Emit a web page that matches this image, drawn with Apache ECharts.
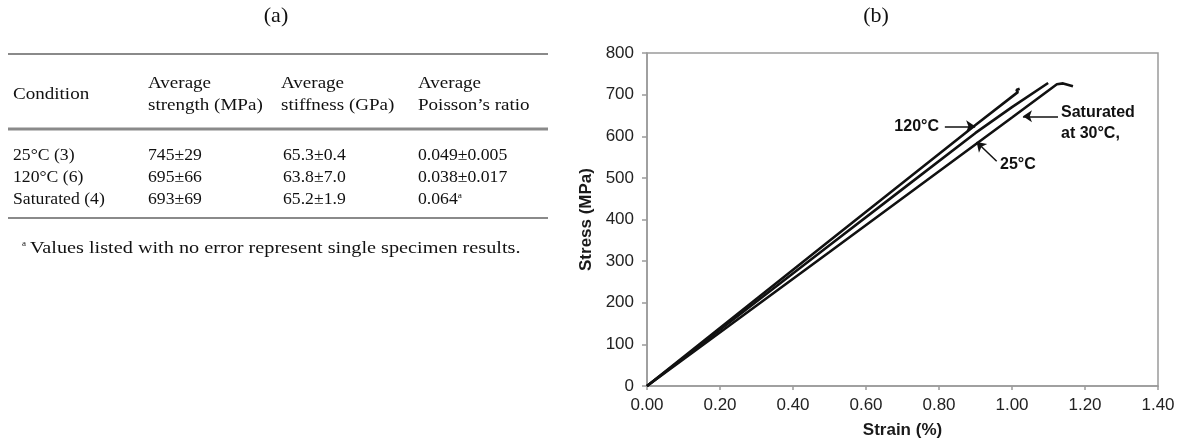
<!DOCTYPE html>
<html><head><meta charset="utf-8">
<script src="https://cdn.jsdelivr.net/npm/echarts@6/dist/echarts.min.js"></script>
<style>html,body{margin:0;padding:0;background:#fff}#c{width:1180px;height:444px}</style>
</head><body><div id="c"></div><script>
// ---- Table (a) data ----
const tableHeaders = ['Condition', 'Average\nstrength (MPa)', 'Average\nstiffness (GPa)', 'Average\nPoisson\u2019s ratio'];
const conditions = ['25°C (3)', '120°C (6)', 'Saturated (4)'];
const strength = ['745\u00b129', '695\u00b166', '693\u00b169'];
const stiffness = ['65.3\u00b10.4', '63.8\u00b17.0', '65.2\u00b11.9'];
const poisson = ['0.049\u00b10.005', '0.038\u00b10.017', '0.064{sup|a}'];
const footnote = 'Values listed with no error represent single specimen results.';

// ---- Chart (b) data: [strain %, stress MPa] ----
const curve120 = [[0, 0], [0.50, 349], [0.90, 627], [1.016, 706], [1.012, 711], [1.021, 714]];
const curve25 = [[0, 0], [0.50, 338], [0.70, 473], [0.90, 608], [1.00, 670], [1.099, 728]];
const curveSat = [[0, 0], [0.50, 322], [1.00, 645], [1.123, 725], [1.140, 727], [1.167, 720]];
const seriesNames = ['120°C', '25°C', 'Saturated at 30°C'];
const annotations = [
  { text: '120°C', from: [0.816, 624], to: [0.899, 624] },
  { text: 'Saturated\nat 30°C,', from: [1.126, 648], to: [1.030, 648] },
  { text: '25°C', from: [0.958, 540], to: [0.903, 586] }
];

const serif = '"Liberation Serif", "Times New Roman", serif';
const sans = '"Liberation Sans", Arial, sans-serif';
const graphics = [];
function txt(x, y, text, font, align, valign, extra, sx) {
  graphics.push({ type: 'text', x: x, y: y, scaleX: sx || 1, silent: true,
    style: Object.assign({ text: text, font: font, fill: '#111', textAlign: align || 'left', textVerticalAlign: valign || 'middle' }, extra || {}) });
}
function hline(x1, x2, y, w, c) {
  graphics.push({ type: 'line', silent: true, shape: { x1: x1, y1: y, x2: x2, y2: y }, style: { stroke: c || '#8a8a8a', lineWidth: w } });
}
const HS = 1.12;  // header text horizontal stretch
const RS = 1.04;  // body rows stretch
const FS = 1.19;  // footnote stretch
const tf = '17px ' + serif;
// panel titles
txt(276, 16, '(a)', '22px ' + serif, 'center');
txt(876, 16, '(b)', '22px ' + serif, 'center');
// table
const colX = [13, 148, 281, 418];
hline(8, 548, 54, 2);
txt(colX[0], 95, tableHeaders[0], tf, 'left', 'middle', null, HS);
for (let i = 1; i < 4; i++) {
  const parts = tableHeaders[i].split('\n');
  txt(colX[i], 84, parts[0], tf, 'left', 'middle', null, HS);
  txt(colX[i], 106, parts[1], tf, 'left', 'middle', null, HS);
}
hline(8, 548, 129, 3);
const rowY = [156, 178, 200];
for (let r = 0; r < 3; r++) {
  txt(colX[0], rowY[r], conditions[r], tf, 'left', 'middle', null, RS);
  txt(colX[1], rowY[r], strength[r], tf, 'left', 'middle', null, RS);
  txt(colX[2] + 2, rowY[r], stiffness[r], tf, 'left', 'middle', null, RS);
  txt(colX[3], rowY[r], poisson[r], tf, 'left', 'middle',
    { rich: { sup: { font: '9px ' + serif, fill: '#111', verticalAlign: 'top', padding: [0, 0, 8, 0] } } }, RS);
}
hline(8, 548, 218, 2);
txt(22, 244, 'a', '9px ' + serif);
txt(30, 249, footnote, tf, 'left', 'middle', null, FS);

// chart annotation labels
txt(939, 127, '120°C', 'bold 16px ' + sans, 'right');
txt(1061, 113, 'Saturated', 'bold 16px ' + sans);
txt(1061, 134, 'at 30°C,', 'bold 16px ' + sans);
txt(1000, 165, '25°C', 'bold 16px ' + sans);

const axisGrey = '#9a9a9a';
const lineSeries = [curve120, curve25, curveSat].map((d, i) => ({
  name: seriesNames[i], type: 'line', data: d, showSymbol: false, symbol: 'none',
  lineStyle: { color: '#111', width: 2.6 }, animation: false, z: 3
}));
lineSeries.push({
  type: 'line', data: [], animation: false,
  markLine: {
    silent: true, animation: false, symbol: ['none', 'arrow'], symbolSize: 9,
    label: { show: false }, lineStyle: { color: '#111', width: 1.5, type: 'solid' },
    data: annotations.map(a => [{ coord: a.from }, { coord: a.to }])
  }
});

const chart = echarts.init(document.getElementById('c'), null, { renderer: 'canvas' });
chart.setOption({
  animation: false,
  backgroundColor: '#fff',
  grid: { left: 647, top: 53, width: 511, height: 336, show: true, borderColor: axisGrey, borderWidth: 1.5, backgroundColor: 'transparent' },
  xAxis: {
    type: 'value', min: 0, max: 1.4, interval: 0.2,
    name: 'Strain (%)', nameLocation: 'middle', nameGap: 36,
    nameTextStyle: { fontFamily: sans, fontWeight: 'bold', fontSize: 17, color: '#1a1a1a' },
    axisLine: { show: true, onZero: false, lineStyle: { color: axisGrey, width: 1.5 } },
    axisTick: { show: true, length: 4, lineStyle: { color: axisGrey, width: 1.5 } },
    splitLine: { show: false },
    axisLabel: { color: '#222', fontSize: 17, fontFamily: sans, margin: 11, formatter: v => v.toFixed(2) }
  },
  yAxis: {
    type: 'value', min: 0, max: 800, interval: 100,
    name: 'Stress (MPa)', nameLocation: 'middle', nameGap: 52, nameRotate: 90,
    nameTextStyle: { fontFamily: sans, fontWeight: 'bold', fontSize: 17, color: '#1a1a1a' },
    axisLine: { show: true, onZero: false, lineStyle: { color: axisGrey, width: 1.5 } },
    axisTick: { show: true, length: 5, lineStyle: { color: axisGrey, width: 1.5 } },
    splitLine: { show: false },
    axisLabel: { color: '#222', fontSize: 17, fontFamily: sans, margin: 13 }
  },
  series: lineSeries,
  graphic: { elements: graphics }
});
</script></body></html>
